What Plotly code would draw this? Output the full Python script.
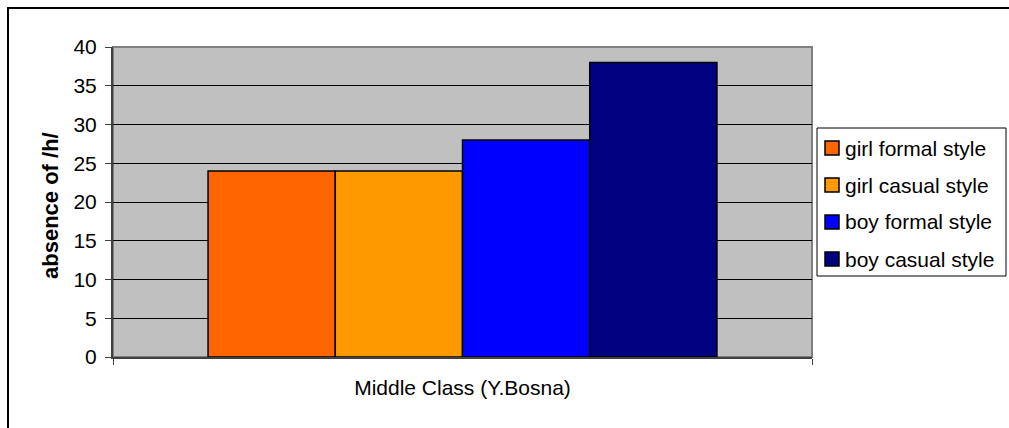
import plotly.graph_objects as go

# Data
category = ["Middle Class (Y.Bosna)"]
series_names = ["girl formal style", "girl casual style", "boy formal style", "boy casual style"]
series_values = [24, 24, 28, 38]
series_colors = ["#FF6600", "#FF9900", "#0000FF", "#000080"]
y_ticks = [0, 5, 10, 15, 20, 25, 30, 35, 40]

FONT = "Liberation Sans, Arial, sans-serif"

# plot-area geometry in pixels (used to place the hand-drawn legend)
W, H = 1009, 428
L, R, T, B = 113, 197, 47, 71
PW, PH = W - L - R, H - T - B


def px_x(x):
    return (x - L) / PW


def px_y(y):
    return (H - B - y) / PH


fig = go.Figure()
for name, val, col in zip(series_names, series_values, series_colors):
    fig.add_trace(go.Bar(
        x=category, y=[val], name=name, showlegend=False,
        marker=dict(color=col, line=dict(color="black", width=1.5)),
    ))

shapes = [
    # plot area frame
    dict(type="rect", xref="paper", yref="paper", x0=0, y0=0, x1=1, y1=1,
         line=dict(color="#808080", width=2), layer="below"),
    # outer chart border
    dict(type="rect", xref="paper", yref="paper",
         x0=px_x(8), y0=px_y(435), x1=px_x(1015), y1=px_y(8),
         line=dict(color="black", width=2)),
    # legend box
    dict(type="rect", xref="paper", yref="paper",
         x0=px_x(817), y0=px_y(276), x1=px_x(1006), y1=px_y(128),
         line=dict(color="black", width=1), fillcolor="white"),
]
annotations = [dict(
    text="<b>absence of /h/</b>", textangle=-90,
    xref="paper", yref="paper", x=px_x(50), y=px_y(206),
    xanchor="center", yanchor="middle",
    showarrow=False, font=dict(family=FONT, size=22, color="black"),
)]

# legend entries
for i, (name, col) in enumerate(zip(series_names, series_colors)):
    cy = 148 + 37 * i
    shapes.append(dict(
        type="rect", xref="paper", yref="paper",
        x0=px_x(825), x1=px_x(839), y0=px_y(cy + 7), y1=px_y(cy - 7),
        fillcolor=col, line=dict(color="black", width=1.5),
    ))
    annotations.append(dict(
        text=name, xref="paper", yref="paper",
        x=px_x(843), y=px_y(cy), xanchor="left", yanchor="middle",
        showarrow=False, font=dict(family=FONT, size=21, color="black"),
    ))

fig.update_layout(
    width=W, height=H,
    margin=dict(l=L, r=R, t=T, b=B),
    paper_bgcolor="white",
    plot_bgcolor="#C0C0C0",
    barmode="group",
    bargap=0.272,
    bargroupgap=0,
    font=dict(family=FONT, size=21, color="black"),
    showlegend=False,
    xaxis=dict(
        showline=True, linecolor="#404040", linewidth=2,
        ticks="outside", tickson="boundaries", ticklen=6, tickcolor="#404040",
        tickfont=dict(family=FONT, size=21),
        ticklabelstandoff=11,
        showgrid=False, fixedrange=True,
    ),
    yaxis=dict(
        range=[0, 40], tickvals=y_ticks,
        showline=True, linecolor="#404040", linewidth=2,
        ticks="outside", ticklen=6, tickcolor="#404040",
        tickfont=dict(family=FONT, size=21),
        ticklabelstandoff=4,
        showgrid=True, gridcolor="#000000", gridwidth=1,
        zeroline=False, fixedrange=True,
    ),
    annotations=annotations,
    shapes=shapes,
)

fig.write_html("out.html")
